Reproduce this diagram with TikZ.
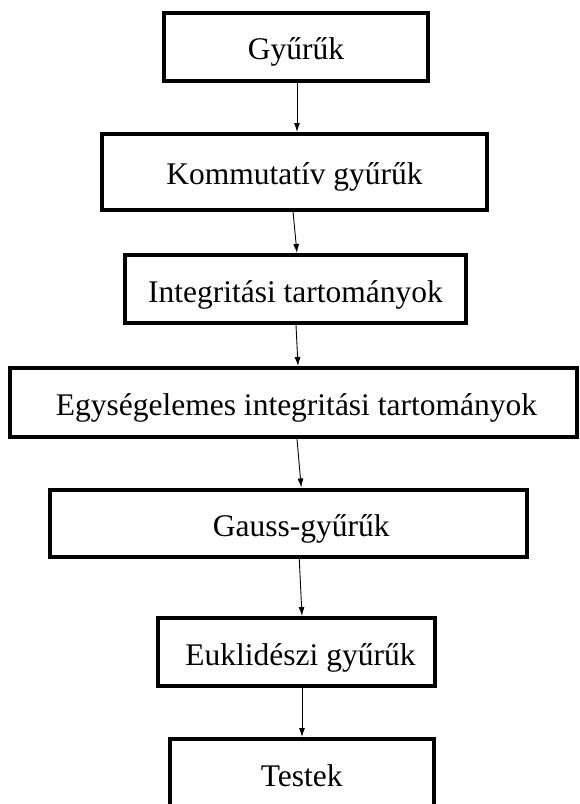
\documentclass[tikz,border=0pt]{standalone}
\usepackage{fontspec}
\setmainfont{Liberation Serif}
\usetikzlibrary{arrows.meta}

\begin{document}
\begin{tikzpicture}[x=1pt,y=-1pt,
    box/.style={draw,line width=4pt,inner sep=0pt,text height=26pt,text depth=0pt,
        font=\fontsize{31.5}{36}\selectfont},
    arr/.style={line width=0.9pt,-{Latex[length=9pt,width=6pt]}}]
    \useasboundingbox (0,0) rectangle (579,804);
    % boxes, top to bottom
    \node[box,minimum width=264pt,minimum height=67.5pt] (gyu) at (296,46.75) {Gyűrűk};
    \node[box,minimum width=385pt,minimum height=75.5pt] (komm) at (294.5,171.75) {Kommutatív gyűrűk};
    \node[box,minimum width=341pt,minimum height=68pt] (integ) at (295.5,289) {Integritási tartományok};
    \node[box,minimum width=567pt,minimum height=69pt] (egys) at (293.5,402.5) {\hspace*{6pt}Egységelemes integritási tartományok};
    \node[box,minimum width=477.5pt,minimum height=67.5pt] (gauss) at (288.25,523.25) {\hspace*{26pt}Gauss-gyűrűk};
    \node[box,minimum width=277pt,minimum height=68pt] (eukl) at (296.5,652) {\hspace*{8pt}Euklidészi gyűrűk};
    \node[box,minimum width=264.5pt,minimum height=68pt] (test) at (301.75,773) {Testek};
    % arrows
    \draw[arr] ([xshift=1pt]gyu.south) -- ([xshift=2.5pt]komm.north);
    \draw[arr] ([xshift=-1.5pt]komm.south) -- ([xshift=1.5pt]integ.north);
    \draw[arr] ([xshift=0.5pt]integ.south) -- ([xshift=4.5pt]egys.north);
    \draw[arr] ([xshift=3.5pt]egys.south) -- ([xshift=13pt]gauss.north);
    \draw[arr] ([xshift=11pt]gauss.south) -- ([xshift=5.5pt]eukl.north);
    \draw[arr] ([xshift=5.5pt]eukl.south) -- ([xshift=0.25pt]test.north);
\end{tikzpicture}
\end{document}
